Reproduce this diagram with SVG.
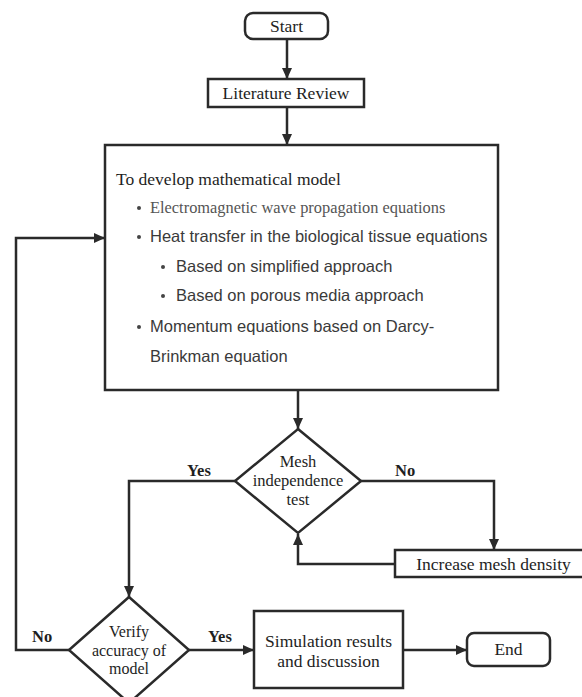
<svg xmlns="http://www.w3.org/2000/svg" width="582" height="697" viewBox="0 0 582 697">
<defs>
<marker id="ah" markerUnits="userSpaceOnUse" markerWidth="12" markerHeight="12" viewBox="0 0 12 12" refX="11" refY="6" orient="auto">
<path d="M0,1 L11,6 L0,11 Z" fill="#2a2a2a"/>
</marker>
<style>
.box{fill:#fff;stroke:#2a2a2a;stroke-width:2.5}
.ln{fill:none;stroke:#2a2a2a;stroke-width:2.5;marker-end:url(#ah)}
.t{font-family:"Liberation Serif","Times New Roman",serif;font-size:17.5px;fill:#1e1e1e;text-anchor:middle}
.d{font-family:"Liberation Serif","Times New Roman",serif;font-size:16.5px;fill:#1e1e1e;text-anchor:middle}
.v{font-family:"Liberation Serif","Times New Roman",serif;font-size:16px;fill:#1e1e1e;text-anchor:middle}
.lb{font-family:"Liberation Serif","Times New Roman",serif;font-size:16.5px;font-weight:bold;fill:#1e1e1e}
.s{font-family:"Liberation Sans",Arial,sans-serif;font-size:16.5px;fill:#3a3a3a}
.sr{font-family:"Liberation Serif","Times New Roman",serif;font-size:16.4px;fill:#555}
</style>
</defs>
<rect width="582" height="697" fill="#fff"/>
<g id="connectors">
<path class="ln" d="M287,39 V79"/>
<path class="ln" d="M287,107 V145"/>
<path class="ln" d="M298,390 V429"/>
<path class="ln" d="M235,481 H129 V597"/>
<path class="ln" d="M361,481 H494 V550"/>
<path class="ln" d="M395,564 H298 V534"/>
<path class="ln" d="M69,650 H16 V238 H105"/>
<path class="ln" d="M189,650 H254"/>
<path class="ln" d="M403,650 H467"/>
<text class="lb" x="187" y="476">Yes</text>
<text class="lb" x="395" y="476">No</text>
<text class="lb" x="32" y="642">No</text>
<text class="lb" x="208" y="642">Yes</text>
</g>
<g id="start">
<rect class="box" x="245" y="13" width="83" height="26" rx="8"/>
<text class="t" x="286.5" y="32">Start</text>
</g>
<g id="literature">
<rect class="box" x="208" y="79" width="156" height="28"/>
<text class="t" x="286" y="99">Literature Review</text>
</g>
<g id="model">
<rect class="box" x="105" y="145" width="393" height="245"/>
<text class="t" style="text-anchor:start" x="116" y="185">To develop mathematical model</text>
<circle cx="139" cy="208" r="2" fill="#444"/>
<text class="sr" x="150" y="213">Electromagnetic wave propagation equations</text>
<circle cx="139" cy="237" r="2" fill="#444"/>
<text class="s" x="150" y="242">Heat transfer in the biological tissue equations</text>
<circle cx="163" cy="267" r="2" fill="#444"/>
<text class="s" x="176" y="272">Based on simplified approach</text>
<circle cx="163" cy="296" r="2" fill="#444"/>
<text class="s" x="176" y="301">Based on porous media approach</text>
<circle cx="139" cy="327" r="2" fill="#444"/>
<text class="s" x="150" y="332">Momentum equations based on Darcy-</text>
<text class="s" x="150" y="362">Brinkman equation</text>
</g>
<g id="mesh">
<polygon class="box" points="298,429 361,481 298,533 235,481"/>
<text class="d" x="298" y="467">Mesh</text>
<text class="d" x="298" y="486">independence</text>
<text class="d" x="298" y="505">test</text>
</g>
<g id="increase">
<rect class="box" x="395" y="550" width="195" height="27"/>
<text class="t" x="493.5" y="570">Increase mesh density</text>
</g>
<g id="verify">
<polygon class="box" points="129,597 189,650 129,703 69,650"/>
<text class="v" x="129" y="637">Verify</text>
<text class="v" x="129" y="655.5">accuracy of</text>
<text class="v" x="129" y="674">model</text>
</g>
<g id="simulation">
<rect class="box" x="254" y="611" width="149" height="77"/>
<text class="t" x="328.5" y="647">Simulation results</text>
<text class="t" x="328.5" y="667">and discussion</text>
</g>
<g id="end">
<rect class="box" x="467" y="633" width="83" height="33" rx="7"/>
<text class="t" x="508.5" y="655">End</text>
</g>
</svg>
